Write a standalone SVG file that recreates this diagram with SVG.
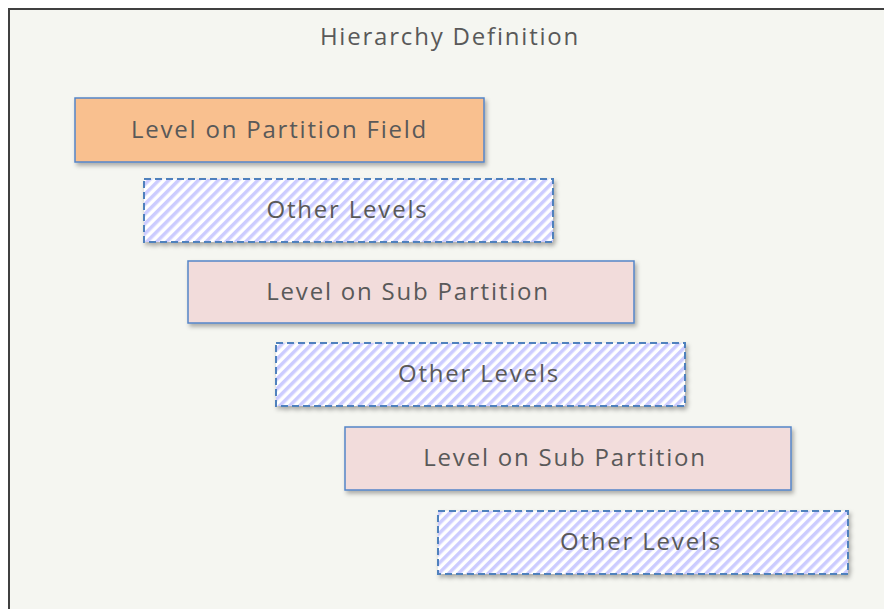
<svg xmlns="http://www.w3.org/2000/svg" width="884" height="609" viewBox="0 0 884 609">
<style>
text{font-family:"Open Sans","Liberation Sans",sans-serif;font-size:24px;letter-spacing:1.8px;fill:#595959;text-anchor:middle}
.solid{stroke:#5585C8;stroke-width:1.5}
.orange{fill:#F9C08F}
.pink{fill:#F2DCDB}
.hatch{fill:url(#hatch);stroke:#4F81BD;stroke-width:2;stroke-dasharray:7 4}
</style>
<defs>
<pattern id="hatch" patternUnits="userSpaceOnUse" width="7" height="7" patternTransform="rotate(45)">
<rect width="7" height="7" fill="#FFFFFF"/>
<rect width="3.5" height="7" fill="#CCCCFF"/>
</pattern>
<filter id="sh" x="-5%" y="-10%" width="115%" height="130%">
<feDropShadow dx="2" dy="3" stdDeviation="2" flood-color="#000" flood-opacity="0.3"/>
</filter>
</defs>
<rect x="0" y="0" width="884" height="609" fill="#FFFFFF"/>
<rect x="9" y="9" width="880" height="605" fill="#F5F6F1" stroke="#404040" stroke-width="2"/>
<text x="450" y="45">Hierarchy Definition</text>
<g id="n1"><rect class="solid orange" x="75" y="98" width="409" height="64" filter="url(#sh)"/><text x="279.5" y="138">Level on Partition Field</text></g>
<g id="n2"><rect class="hatch" x="144" y="179" width="409" height="63" filter="url(#sh)"/><text x="347.5" y="218">Other Levels</text></g>
<g id="n3"><rect class="solid pink" x="188" y="261" width="446" height="62" filter="url(#sh)"/><text x="408" y="300">Level on Sub Partition</text></g>
<g id="n4"><rect class="hatch" x="276" y="343" width="409" height="63" filter="url(#sh)"/><text x="479" y="382">Other Levels</text></g>
<g id="n5"><rect class="solid pink" x="345" y="427" width="446" height="63" filter="url(#sh)"/><text x="565" y="466">Level on Sub Partition</text></g>
<g id="n6"><rect class="hatch" x="438" y="511" width="410" height="63" filter="url(#sh)"/><text x="641" y="550">Other Levels</text></g>
<g id="connectors"/>
</svg>
